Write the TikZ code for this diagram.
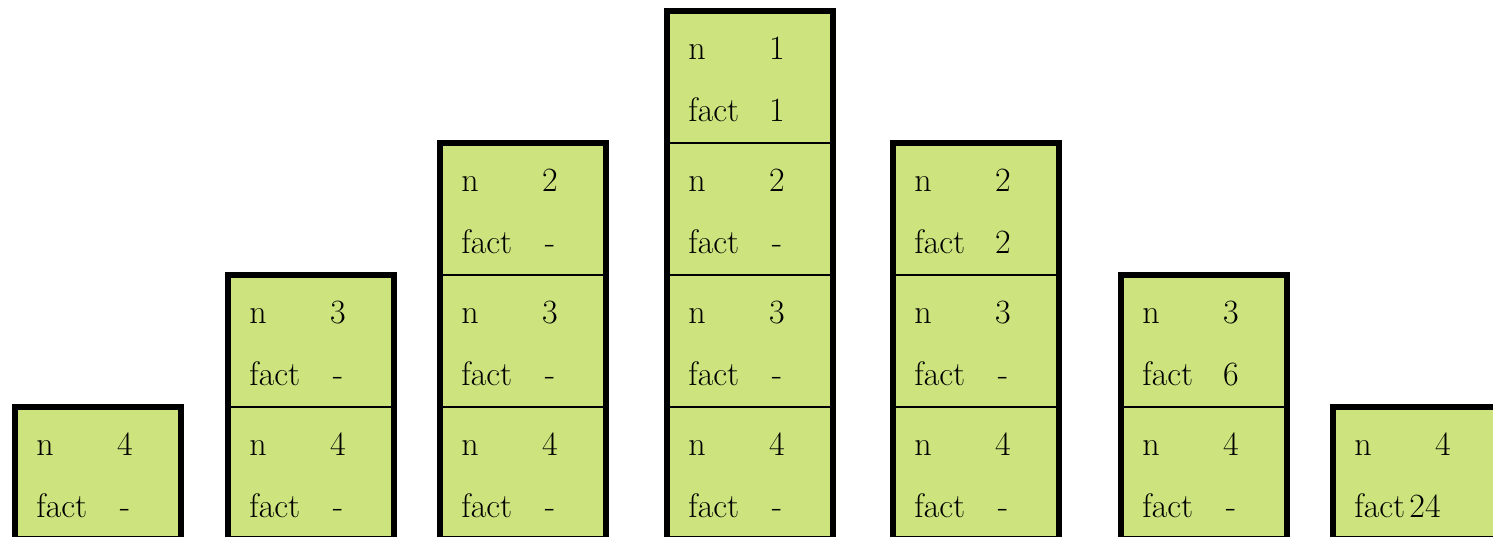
\documentclass[tikz,border=0pt]{standalone}
\usepackage{tikz}

\definecolor{framegreen}{RGB}{205,227,125}

% one stack frame: name, x of left line, row (0 = bottom), n, fact
\newcommand{\callbox}[5]{%
  \node[box] (#1) at (#2+83, 473-132*#3) {};
  \node[lab] (#1-n) at ([xshift=10.5pt,yshift=-24pt]#1.north west) {n};
  \node[val] (#1-nv) at ([xshift=55pt,yshift=-24pt]#1.north west) {#4};
  \node[lab] (#1-f) at ([xshift=10.5pt,yshift=-55pt]#1.north west) {fact};
  \node[val] (#1-fv) at ([xshift=55pt,yshift=-55pt]#1.north west) {#5};
}

\begin{document}
\begin{tikzpicture}[x=0.5pt, y=-0.5pt,
  box/.style={draw, line width=1pt, fill=framegreen, minimum width=83pt,
    minimum height=66pt, inner sep=0pt, outer sep=0pt},
  lab/.style={anchor=base west, inner sep=0pt, font=\fontsize{17}{20}\selectfont},
  val/.style={anchor=base, inner sep=0pt, font=\fontsize{17}{20}\selectfont},
  stack/.style={line width=3.4pt}]
\useasboundingbox (0,0) rectangle (1493,536);

% main(): n = 4
\callbox{c0-0}{15}{0}{4}{-}
\draw[stack] (c0-0.south west) rectangle (c0-0.north east);

% fact(3) called
\callbox{c1-0}{228}{0}{4}{-}
\callbox{c1-1}{228}{1}{3}{-}
\draw[stack] (c1-0.south west) rectangle (c1-1.north east);

% fact(2) called
\callbox{c2-0}{440}{0}{4}{-}
\callbox{c2-1}{440}{1}{3}{-}
\callbox{c2-2}{440}{2}{2}{-}
\draw[stack] (c2-0.south west) rectangle (c2-2.north east);

% fact(1) called, returns 1
\callbox{c3-0}{667}{0}{4}{-}
\callbox{c3-1}{667}{1}{3}{-}
\callbox{c3-2}{667}{2}{2}{-}
\callbox{c3-3}{667}{3}{1}{1}
\draw[stack] (c3-0.south west) rectangle (c3-3.north east);

% back in fact(2)
\callbox{c4-0}{893}{0}{4}{-}
\callbox{c4-1}{893}{1}{3}{-}
\callbox{c4-2}{893}{2}{2}{2}
\draw[stack] (c4-0.south west) rectangle (c4-2.north east);

% back in fact(3)
\callbox{c5-0}{1121}{0}{4}{-}
\callbox{c5-1}{1121}{1}{3}{6}
\draw[stack] (c5-0.south west) rectangle (c5-1.north east);

% back in main()
\callbox{c6-0}{1333}{0}{4}{}
\node[val] (c6-0-fv24) at ([xshift=46pt,yshift=-55pt]c6-0.north west) {24};
\draw[stack] (c6-0.south west) rectangle (c6-0.north east);
\end{tikzpicture}
\end{document}
